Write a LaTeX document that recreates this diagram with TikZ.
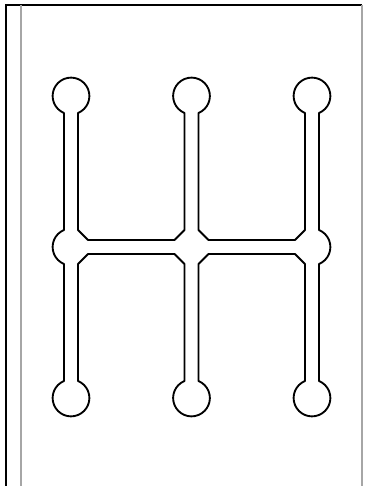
\documentclass[tikz,border=0pt]{standalone}
\usepackage{tikz}
\usepackage{xcolor}
\definecolor{rule}{HTML}{A6A6A6}

% gate centres (x columns, y rows) and channel sizes
\def\xa{71}
\def\xb{191.5}
\def\xc{312}
\def\ya{390}
\def\yb{239}
\def\yc{88}
\def\hw{7}
\def\sd{17}
\def\rk{18.385}
\def\ang{67.62}

\begin{document}
\begin{tikzpicture}[x=0.75pt,y=0.75pt]
  \useasboundingbox (0,0) rectangle (372,486);
  % page edges
  \draw[line width=1.5pt] (5.5,0) -- (5.5,481) -- (362,481);
  \draw[rule, line width=1.1pt] (21,0) -- (21,481);
  \draw[rule, line width=1.1pt] (362,0) -- (362,481);
  % shift gate outline
  \draw[line width=1.4pt, line join=round]
    (\xa-\hw,\ya-\sd) -- (\xa-\hw,\yb+\sd)
    arc[start angle=180-\ang, end angle=180+\ang, radius=\rk]
    -- (\xa-\hw,\yc+\sd)
    arc[start angle=180-\ang, end angle=360+\ang, radius=\rk]
    -- (\xa+\hw,\yb-\sd) -- (\xa+\sd,\yb-\hw)
    -- (\xb-\sd,\yb-\hw) -- (\xb-\hw,\yb-\sd)
    -- (\xb-\hw,\yc+\sd)
    arc[start angle=180-\ang, end angle=360+\ang, radius=\rk]
    -- (\xb+\hw,\yb-\sd) -- (\xb+\sd,\yb-\hw)
    -- (\xc-\sd,\yb-\hw) -- (\xc-\hw,\yb-\sd)
    -- (\xc-\hw,\yc+\sd)
    arc[start angle=180-\ang, end angle=360+\ang, radius=\rk]
    -- (\xc+\hw,\yb-\sd)
    arc[start angle=-\ang, end angle=\ang, radius=\rk]
    -- (\xc+\hw,\ya-\sd)
    arc[start angle=-\ang, end angle=180+\ang, radius=\rk]
    -- (\xc-\hw,\yb+\sd) -- (\xc-\sd,\yb+\hw)
    -- (\xb+\sd,\yb+\hw) -- (\xb+\hw,\yb+\sd)
    -- (\xb+\hw,\ya-\sd)
    arc[start angle=-\ang, end angle=180+\ang, radius=\rk]
    -- (\xb-\hw,\yb+\sd) -- (\xb-\sd,\yb+\hw)
    -- (\xa+\sd,\yb+\hw) -- (\xa+\hw,\yb+\sd)
    -- (\xa+\hw,\ya-\sd)
    arc[start angle=-\ang, end angle=180+\ang, radius=\rk]
    -- cycle;
\end{tikzpicture}
\end{document}
